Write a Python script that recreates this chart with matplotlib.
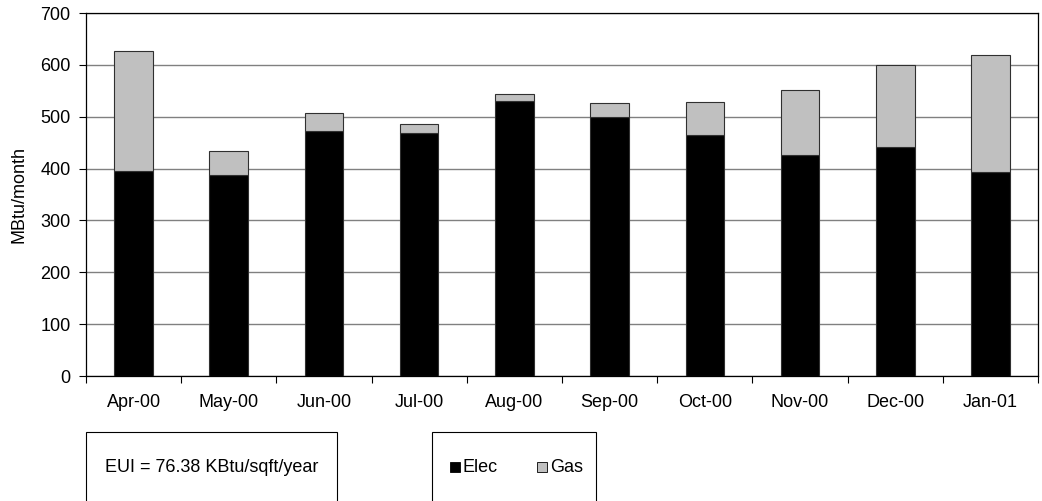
import numpy as np
import matplotlib
matplotlib.use("Agg")
import matplotlib.pyplot as plt
from matplotlib.patches import Rectangle

plt.rcParams['font.family'] = ['Liberation Sans', 'DejaVu Sans']

# monthly energy use, MBtu/month
months = ["Apr-00", "May-00", "Jun-00", "Jul-00", "Aug-00",
          "Sep-00", "Oct-00", "Nov-00", "Dec-00", "Jan-01"]
elec = [395, 388, 473, 468, 531, 500, 465, 427, 442, 393]
gas = [232, 46, 34, 18, 12, 27, 63, 125, 157, 226]
eui_text = "EUI = 76.38 KBtu/sqft/year"

fs = 13

fig = plt.figure(figsize=(10.42, 5.01), dpi=100)
ax = fig.add_axes([0.0825, 0.2495, 0.9137, 0.7245])

x = np.arange(len(months))
w = 0.405
ax.bar(x, elec, w, color='black', edgecolor='#303030', linewidth=0.8, zorder=3)
ax.bar(x, gas, w, bottom=elec, color='#c0c0c0', edgecolor='#303030', linewidth=0.8, zorder=3)

ax.set_xlim(-0.5, len(months) - 0.5)
ax.set_ylim(0, 700)
ax.set_yticks(range(0, 701, 100))
ax.yaxis.grid(True, color='#808080', linewidth=1, zorder=0)
ax.set_xticks(x)
ax.set_xticklabels(months, fontsize=fs)
ax.set_xticks(np.arange(-0.5, len(months), 1), minor=True)
ax.tick_params(axis='x', which='major', length=0, pad=13)
ax.tick_params(axis='x', which='minor', length=5, width=0.8, direction='out')
ax.tick_params(axis='y', length=5, width=0.8, direction='out', labelsize=fs, pad=6)
ax.set_ylabel("MBtu/month", fontsize=fs, labelpad=9)
for s in ax.spines.values():
    s.set_color('black')
    s.set_linewidth(0.9)

# boxes below the chart
W, H = 1042.0, 501.0
fig.patches.append(Rectangle((86 / W, -0.05), (337 - 86) / W, (501 - 432) / H + 0.05,
                             transform=fig.transFigure, fill=False,
                             edgecolor='black', linewidth=0.8))
fig.text(212 / W, 1 - 467 / H, eui_text, ha='center', va='center', fontsize=fs)

fig.patches.append(Rectangle((432 / W, -0.05), (596 - 432) / W, (501 - 432) / H + 0.05,
                             transform=fig.transFigure, fill=False,
                             edgecolor='black', linewidth=0.8))
fig.patches.append(Rectangle((450 / W, 1 - 472 / H), 10 / W, 10 / H,
                             transform=fig.transFigure, facecolor='black',
                             edgecolor='black', linewidth=0.6))
fig.text(463 / W, 1 - 467 / H, "Elec", ha='left', va='center', fontsize=fs)
fig.patches.append(Rectangle((537 / W, 1 - 472 / H), 10 / W, 10 / H,
                             transform=fig.transFigure, facecolor='#c0c0c0',
                             edgecolor='black', linewidth=0.6))
fig.text(550 / W, 1 - 467 / H, "Gas", ha='left', va='center', fontsize=fs)

fig.savefig("out.png", dpi=100)
